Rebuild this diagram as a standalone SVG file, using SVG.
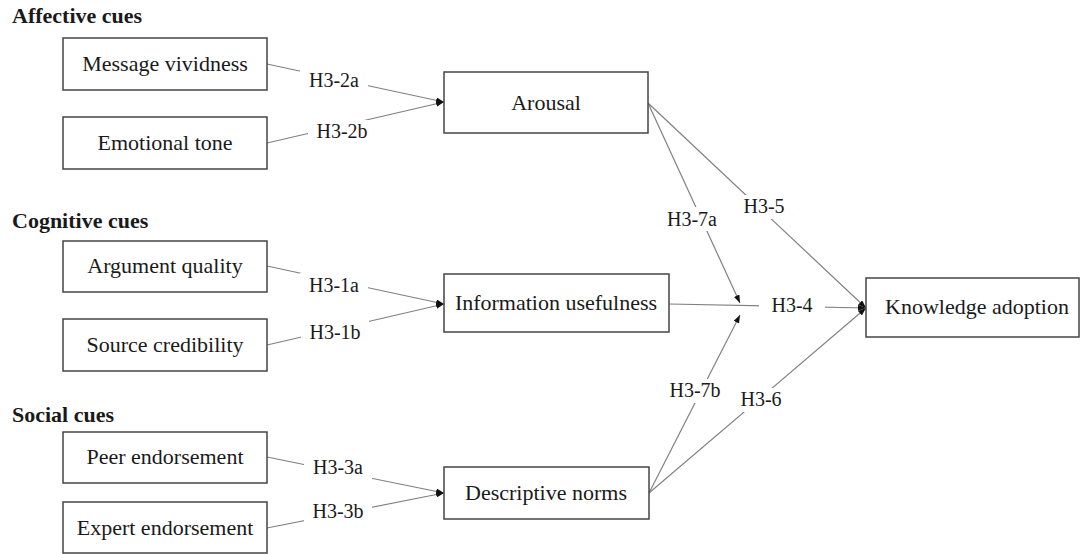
<svg xmlns="http://www.w3.org/2000/svg" width="1083" height="554" viewBox="0 0 1083 554">
  <defs>
    <marker id="arrow" viewBox="0 0 8 6" refX="8" refY="3" markerWidth="8" markerHeight="6" markerUnits="userSpaceOnUse" orient="auto">
      <path d="M0,0 L8,3 L0,6 z" fill="#111"/>
    </marker>
    <style>
      .box { fill: #fff; stroke: #444; stroke-width: 1.5; }
      .node-text { font-family: "Liberation Serif", "Times New Roman", serif; font-size: 22px; fill: #1a1a1a; text-anchor: middle; }
      .head { font-family: "Liberation Serif", "Times New Roman", serif; font-size: 22px; font-weight: bold; fill: #1a1a1a; }
      .edge { fill: none; stroke: #808080; stroke-width: 1.2; }
      .lbl-bg { fill: #fff; }
      .lbl { font-family: "Liberation Serif", "Times New Roman", serif; font-size: 20px; fill: #1a1a1a; text-anchor: middle; }
    </style>
  </defs>

  <rect width="1083" height="554" fill="#fff"/>

  <!-- section headings -->
  <text class="head" x="12" y="23">Affective cues</text>
  <text class="head" x="12" y="228">Cognitive cues</text>
  <text class="head" x="12" y="422">Social cues</text>

  <!-- connectors -->
  <g id="connectors">
    <line class="edge" x1="267" y1="64" x2="444" y2="102" marker-end="url(#arrow)"/>
    <line class="edge" x1="267" y1="143" x2="444" y2="102" marker-end="url(#arrow)"/>
    <line class="edge" x1="267" y1="266" x2="444" y2="304" marker-end="url(#arrow)"/>
    <line class="edge" x1="267" y1="345" x2="444" y2="304" marker-end="url(#arrow)"/>
    <line class="edge" x1="267" y1="457" x2="444" y2="493" marker-end="url(#arrow)"/>
    <line class="edge" x1="267" y1="528" x2="444" y2="493" marker-end="url(#arrow)"/>
    <line class="edge" x1="648" y1="103" x2="866" y2="308" marker-end="url(#arrow)"/>
    <line class="edge" x1="648" y1="103" x2="740" y2="303" marker-end="url(#arrow)"/>
    <line class="edge" x1="669" y1="304" x2="866" y2="308" marker-end="url(#arrow)"/>
    <line class="edge" x1="649" y1="493" x2="740" y2="315" marker-end="url(#arrow)"/>
    <line class="edge" x1="649" y1="493" x2="866" y2="308" marker-end="url(#arrow)"/>

    <!-- path labels -->
    <g id="labels">
      <rect class="lbl-bg" x="300" y="68" width="68" height="24"/>
      <text class="lbl" x="334" y="87">H3-2a</text>
      <rect class="lbl-bg" x="308" y="120" width="68" height="24"/>
      <text class="lbl" x="342" y="138">H3-2b</text>
      <rect class="lbl-bg" x="300" y="273" width="68" height="24"/>
      <text class="lbl" x="334" y="292">H3-1a</text>
      <rect class="lbl-bg" x="301" y="320" width="68" height="24"/>
      <text class="lbl" x="335" y="339">H3-1b</text>
      <rect class="lbl-bg" x="304" y="456" width="68" height="24"/>
      <text class="lbl" x="338" y="474">H3-3a</text>
      <rect class="lbl-bg" x="304" y="500" width="68" height="24"/>
      <text class="lbl" x="338" y="518">H3-3b</text>
      <rect class="lbl-bg" x="731" y="195" width="66" height="24"/>
      <text class="lbl" x="764" y="213">H3-5</text>
      <rect class="lbl-bg" x="659" y="207" width="67" height="24"/>
      <text class="lbl" x="692" y="226">H3-7a</text>
      <rect class="lbl-bg" x="759" y="294" width="66" height="24"/>
      <text class="lbl" x="792" y="312">H3-4</text>
      <rect class="lbl-bg" x="661" y="379" width="68" height="24"/>
      <text class="lbl" x="695" y="397">H3-7b</text>
      <rect class="lbl-bg" x="728" y="388" width="66" height="24"/>
      <text class="lbl" x="761" y="406">H3-6</text>
    </g>
  </g>

  <!-- nodes -->
  <g id="message-vividness">
    <rect class="box" x="63" y="38" width="204" height="52"/>
    <text class="node-text" x="165" y="71">Message vividness</text>
  </g>
  <g id="emotional-tone">
    <rect class="box" x="63" y="117" width="204" height="52"/>
    <text class="node-text" x="165" y="150">Emotional tone</text>
  </g>
  <g id="argument-quality">
    <rect class="box" x="63" y="241" width="204" height="51"/>
    <text class="node-text" x="165" y="273">Argument quality</text>
  </g>
  <g id="source-credibility">
    <rect class="box" x="63" y="319" width="204" height="52"/>
    <text class="node-text" x="165" y="352">Source credibility</text>
  </g>
  <g id="peer-endorsement">
    <rect class="box" x="63" y="432" width="204" height="51"/>
    <text class="node-text" x="165" y="464">Peer endorsement</text>
  </g>
  <g id="expert-endorsement">
    <rect class="box" x="63" y="502" width="204" height="51"/>
    <text class="node-text" x="165" y="535">Expert endorsement</text>
  </g>
  <g id="arousal">
    <rect class="box" x="444" y="72" width="204" height="61"/>
    <text class="node-text" x="546" y="110">Arousal</text>
  </g>
  <g id="information-usefulness">
    <rect class="box" x="444" y="274" width="225" height="58"/>
    <text class="node-text" x="556" y="310">Information usefulness</text>
  </g>
  <g id="descriptive-norms">
    <rect class="box" x="444" y="467" width="205" height="52"/>
    <text class="node-text" x="546" y="500">Descriptive norms</text>
  </g>
  <g id="knowledge-adoption">
    <rect class="box" x="866" y="278" width="213" height="59"/>
    <text class="node-text" x="977" y="314">Knowledge adoption</text>
  </g>
</svg>
